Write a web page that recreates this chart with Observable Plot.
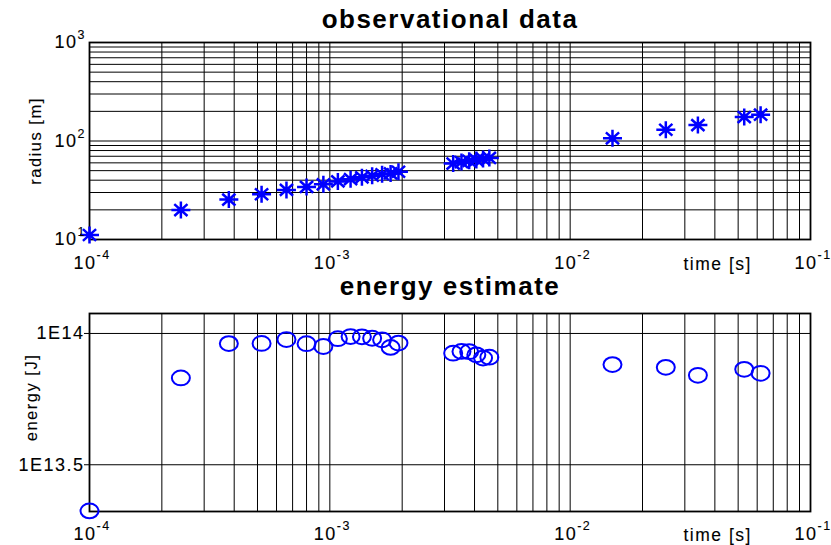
<!DOCTYPE html>
<html><head><meta charset="utf-8">
<script src="https://cdn.jsdelivr.net/npm/d3@7"></script>
<script src="https://cdn.jsdelivr.net/npm/@observablehq/plot@0.6"></script>
<style>
html,body{margin:0;padding:0;background:#fff;}
#chart{width:831px;height:545px;position:relative;overflow:hidden;background:#fff}
#chart svg{display:block}
#chart text{letter-spacing:1.5px}
#chart g[aria-label="title"] text{letter-spacing:1.5px}
#chart g[aria-label="ylabel"] text{letter-spacing:1px}
#chart g[aria-label="exp"] text{letter-spacing:0.8px}
</style></head><body><div id="chart"></div>
<script>
// time after detonation [s], fireball radius [m], energy estimate [J]
const timeS = [1.0e-4, 2.4e-4, 3.8e-4, 5.2e-4, 6.6e-4, 8.0e-4, 9.4e-4, 1.08e-3, 1.22e-3, 1.36e-3,
  1.50e-3, 1.65e-3, 1.79e-3, 1.93e-3, 3.26e-3, 3.53e-3, 3.80e-3, 4.07e-3, 4.34e-3, 4.61e-3,
  1.5e-2, 2.5e-2, 3.4e-2, 5.3e-2, 6.2e-2];
const radiusM = [11.1, 19.9, 25.4, 28.8, 31.9, 34.2, 36.3, 38.9, 41.0, 42.8,
  44.4, 46.0, 46.9, 48.7, 59.0, 61.1, 62.9, 64.3, 65.6, 67.3,
  106.5, 130.0, 145.0, 175.0, 185.0];
const energyJ = [2.11e13, 6.77e13, 9.15e13, 9.16e13, 9.48e13, 9.14e13, 8.92e13, 9.55e13, 9.73e13, 9.71e13,
  9.59e13, 9.46e13, 8.85e13, 9.19e13, 8.41e13, 8.54e13, 8.52e13, 8.29e13, 8.06e13, 8.12e13,
  7.61e13, 7.43e13, 6.93e13, 7.30e13, 7.05e13];

const xTickExponents = [-4, -3, -2, -1];
const radiusTickExponents = [1, 2, 3];
const energyTickValues = [10 ** 13.5, 1e14];
const energyTickLabels = ["1E13.5", "1E14"];
const titles = ["observational data", "energy estimate"];
const yLabels = ["radius [m]", "energy [J]"];
const xLabel = "time [s]";

const FONT = "'Liberation Sans', Arial, Helvetica, sans-serif";
const BLUE = "#0000ff";

const obs = timeS.map((t, i) => ({t, r: radiusM[i], e: energyJ[i]}));
const xGrid = [-4, -3, -2].flatMap(e => d3.range(1, 10).map(k => k * 10 ** e)).concat([1e-1]);
const rGrid = [1, 2].flatMap(e => d3.range(1, 10).map(k => k * 10 ** e)).concat([1e3]);

const star8 = {draw(ctx) {
  const a = 9.5, b = 8.5, c = 6.6, d = 5.9;
  ctx.moveTo(-a, 0); ctx.lineTo(a, 0);
  ctx.moveTo(0, -b); ctx.lineTo(0, b);
  ctx.moveTo(-c, -d); ctx.lineTo(c, d);
  ctx.moveTo(-c, d); ctx.lineTo(c, -d);
}};
const ellipse = {draw(ctx) {
  const rx = 9, ry = 7.4, k = 0.5523;
  ctx.moveTo(rx, 0);
  ctx.bezierCurveTo(rx, ry * k, rx * k, ry, 0, ry);
  ctx.bezierCurveTo(-rx * k, ry, -rx, ry * k, -rx, 0);
  ctx.bezierCurveTo(-rx, -ry * k, -rx * k, -ry, 0, -ry);
  ctx.bezierCurveTo(rx * k, -ry, rx, -ry * k, rx, 0);
  ctx.closePath();
}};

const txt = {fontFamily: FONT, fill: "#000", lineAnchor: "middle", stroke: "#000", strokeWidth: 0.12};

function xTickLabels(dyBase, dyLabel) {
  return [
    Plot.text(xTickExponents, {...txt, x: e => 10 ** e, frameAnchor: "bottom", text: () => "10",
      textAnchor: "end", dx: 7, dy: dyBase, fontSize: 18}),
    Plot.text(xTickExponents, {...txt, x: e => 10 ** e, frameAnchor: "bottom", text: e => String(e),
      textAnchor: "start", dx: 7, dy: dyBase - 8.5, fontSize: 12.5, ariaLabel: "exp"}),
    Plot.text([xLabel], {...txt, frameAnchor: "bottom-right", textAnchor: "start", dx: -127, dy: dyLabel, fontSize: 17.5})
  ];
}

const xScale = {type: "log", domain: [1e-4, 1e-1], axis: null};

const topPlot = Plot.plot({
  width: 831, height: 270,
  marginLeft: 89, marginRight: 21, marginTop: 42, marginBottom: 31,
  style: {background: "#fff", overflow: "visible"},
  x: xScale,
  y: {type: "log", domain: [10, 1000], axis: null},
  marks: [
    Plot.ruleX(xGrid, {stroke: "#000", strokeWidth: 1}),
    Plot.ruleY(rGrid, {stroke: "#000", strokeWidth: 1}),
    Plot.frame({stroke: "#000", strokeWidth: 1.8}),
    Plot.dot(obs, {x: "t", y: "r", symbol: star8, fill: "none", stroke: BLUE, strokeWidth: 2.5}),
    Plot.text([titles[0]], {...txt, frameAnchor: "top", textAnchor: "middle", dy: -23.3, fontSize: 26, fontWeight: "bold", strokeWidth: 0, ariaLabel: "title"}),
    Plot.text([yLabels[0]], {...txt, frameAnchor: "left", textAnchor: "middle", dx: -54, dy: 0, rotate: -90, fontSize: 16.5, ariaLabel: "ylabel"}),
    Plot.text(radiusTickExponents, {...txt, y: e => 10 ** e, frameAnchor: "left", text: () => "10",
      textAnchor: "end", dx: -12, fontSize: 18}),
    Plot.text(radiusTickExponents, {...txt, y: e => 10 ** e, frameAnchor: "left", text: e => String(e),
      textAnchor: "start", dx: -12, dy: -7.5, fontSize: 12.5, ariaLabel: "exp"}),
    ...xTickLabels(23.5, 25)
  ]
});

const botPlot = Plot.plot({
  width: 831, height: 275,
  marginLeft: 89, marginRight: 21, marginTop: 43, marginBottom: 34,
  style: {background: "#fff", overflow: "visible"},
  x: xScale,
  y: {type: "log", domain: [10 ** 13.322, 10 ** 14.076], axis: "left", ticks: energyTickValues,
      tickFormat: () => "", tickSize: 5, label: null},
  marks: [
    Plot.ruleX(xGrid, {stroke: "#000", strokeWidth: 1}),
    Plot.ruleY(energyTickValues, {stroke: "#000", strokeWidth: 1}),
    Plot.frame({stroke: "#000", strokeWidth: 1.8}),
    Plot.dot(obs, {x: "t", y: "e", symbol: ellipse, fill: "none", stroke: BLUE, strokeWidth: 2}),
    Plot.text([titles[1]], {...txt, frameAnchor: "top", textAnchor: "middle", dy: -27, fontSize: 26, fontWeight: "bold", strokeWidth: 0, ariaLabel: "title"}),
    Plot.text([yLabels[1]], {...txt, frameAnchor: "left", textAnchor: "middle", dx: -58, dy: -15, rotate: -90, fontSize: 16.5, ariaLabel: "ylabel"}),
    Plot.text(energyTickValues, {...txt, y: d => d, text: (d, i) => energyTickLabels[i], frameAnchor: "left",
      textAnchor: "end", dx: -5, fontSize: 18}),
    ...xTickLabels(22.5, 24)
  ]
});

const chart = document.getElementById("chart");
chart.appendChild(topPlot);
chart.appendChild(botPlot);
</script></body></html>
